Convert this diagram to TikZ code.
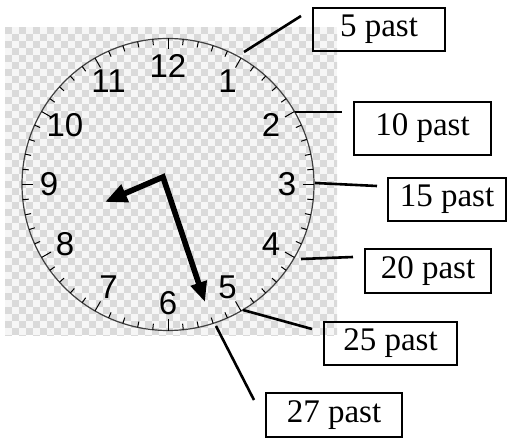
\documentclass[tikz,border=0pt]{standalone}
\usepackage{fontspec}
\setmainfont{Liberation Serif}
\newfontfamily\dialfont{Liberation Sans}
\usetikzlibrary{arrows.meta}
\definecolor{chkdark}{HTML}{DADADA}
\definecolor{chklight}{HTML}{F6F6F6}
\tikzset{
  pastbox/.style={draw,line width=1.2pt,inner sep=0pt,font=\fontsize{16.5}{18}\selectfont},
  lead/.style={line width=1.3pt},
  hand/.style={line width=2.8pt,line join=miter},
  numeral/.style={font=\dialfont\fontsize{16.5}{18}\selectfont,inner sep=0pt}
}

\begin{document}
\begin{tikzpicture}[x=0.5pt,y=0.5pt]
    \useasboundingbox (0,0) rectangle (508,439);
    % --- checkered backdrop ---
    \fill[chklight] (5,104) rectangle (337,412);
    \begin{scope}
      \clip (5,104) rectangle (337,412);
      \foreach \i in {0,...,47}
        \foreach \j in {0,...,44}{
          \pgfmathtruncatemacro\chk{mod(\i+\j,2)}
          \ifnum\chk=0 \fill[chkdark] (5+7*\i,412-7*\j) rectangle ++(7,-7); \fi
        }
    \end{scope}
    % --- dial, ticks and numerals ---
    \begin{scope}[shift={(168,254.5)}]
      \draw[black!75,line width=0.6pt] (0,0) circle[radius=146];
      \foreach \m in {0,...,59}{
        \pgfmathtruncatemacro\hr{mod(\m,5)}
        \ifnum\hr=0 \def\tl{135}\else\def\tl{140}\fi
        \draw[line width=0.5pt] (90-6*\m:146) -- (90-6*\m:\tl);
      }
      \foreach \h in {1,...,12}
        \node[numeral] (h\h) at (90-30*\h:119) {\h};
    \end{scope}
    % --- hands ---
    \coordinate (hub) at (163,262);
    \coordinate (htip) at (105,237);
    \coordinate (mtip) at (205,137);
    \draw[hand,{Triangle[length=11pt,width=9pt]}-{Triangle[length=10pt,width=8pt]}]
      (htip) -- (hub) -- (mtip);
    % --- labels ---
    \node[pastbox,minimum width=65.8pt,minimum height=21.3pt] (p5) at (379,409.5) {5 past};
    \node[pastbox,minimum width=68.3pt,minimum height=26.3pt] (p10) at (422.5,310.5) {10 past};
    \node[pastbox,minimum width=58.8pt,minimum height=21.3pt] (p15) at (447,239.5) {15 past};
    \node[pastbox,minimum width=62.8pt,minimum height=21.8pt] (p20) at (428,168) {20 past};
    \node[pastbox,minimum width=66.3pt,minimum height=21.3pt] (p25) at (390.5,95.5) {25 past};
    \node[pastbox,minimum width=67.8pt,minimum height=21.8pt] (p27) at (334,24) {27 past};
    % --- leader lines ---
    \coordinate (a5) at (244,387);   \coordinate (b5) at (301,423);
    \coordinate (a10) at (295,327);  \coordinate (b10) at (342,327);
    \coordinate (a15) at (315,256);  \coordinate (b15) at (377,253);
    \coordinate (a20) at (301,180);  \coordinate (b20) at (353,182);
    \coordinate (a25) at (243,129);  \coordinate (b25) at (312,110);
    \coordinate (a27) at (216,113);  \coordinate (b27) at (254,39);
    \foreach \k in {5,10,15,20,25,27}
      \draw[lead] (a\k) -- (b\k);
\end{tikzpicture}
\end{document}
